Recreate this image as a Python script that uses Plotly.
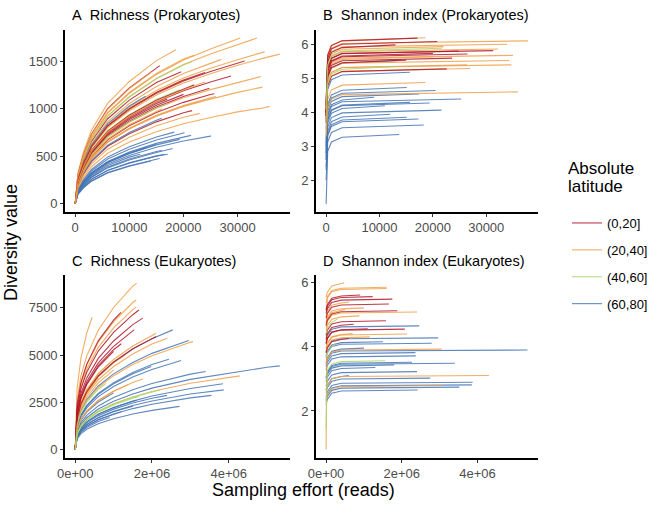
import plotly.graph_objects as go

# ---------------- data ----------------
GROUP_LABELS = ["(0,20]", "(20,40]", "(40,60]", "(60,80]"]
GROUP_COLORS = ["#b2182b", "#f0a048", "#a6d96a", "#4575b4"]

# Panel A: Richness (Prokaryotes); values at grid depths below end depth, then end value
A_GRID = [0, 500, 1500, 3000, 6000, 10000, 15000, 20000, 25000, 30000, 35000]
A_GROUP = [3] * 14 + [1, 1, 0, 1, 1, 1, 0, 0, 0, 0, 0, 2, 2, 1, 1, 1, 0, 1, 1, 3, 3, 0, 1, 1, 0, 2, 1, 1, 1, 0, 0, 1, 1]
A_END = [25100, 21400, 20200, 18300, 19300, 17100, 15600, 14900, 13100, 16000, 12000, 14000, 18000, 16500,
         18600, 30500, 31300, 33600, 35000, 37800, 28800, 25700, 24800, 21600, 19600, 21600, 19300, 27000, 34300,
         34600, 15600, 35900, 26000, 13000, 16000, 22000, 23000, 20000, 17000, 17000, 16000, 14000, 22000, 20000,
         24000, 23000, 24000]
A_VALUES = [
    [0, 127, 213, 305, 417, 508, 594, 660, 711, 712],
    [0, 136, 228, 326, 445, 543, 635, 706, 719],
    [0, 143, 241, 344, 470, 573, 670, 745, 747],
    [0, 150, 252, 360, 492, 600, 702, 753],
    [0, 132, 222, 317, 434, 529, 619, 677],
    [0, 107, 179, 256, 350, 427, 500, 521],
    [0, 100, 168, 240, 328, 400, 468, 476],
    [0, 134, 225, 321, 439, 535, 625],
    [0, 132, 222, 317, 433, 528, 590],
    [0, 118, 197, 282, 385, 470, 550, 560],
    [0, 123, 206, 294, 402, 490, 520],
    [0, 99, 166, 237, 324, 395, 450],
    [0, 115, 193, 276, 377, 460, 538, 580],
    [0, 108, 181, 258, 353, 430, 503, 520],
    [0, 322, 540, 772, 1055, 1286, 1505, 1620],
    [0, 291, 488, 697, 953, 1162, 1360, 1511, 1627, 1731, 1743],
    [0, 248, 417, 596, 814, 993, 1162, 1291, 1390, 1480, 1500],
    [0, 281, 473, 675, 923, 1125, 1316, 1463, 1575, 1676, 1743],
    [0, 254, 427, 610, 834, 1017, 1190, 1322, 1424, 1515, 1597],
    [0, 244, 410, 586, 801, 977, 1143, 1270, 1368, 1456, 1534, 1573],
    [0, 229, 384, 548, 749, 914, 1069, 1188, 1280, 1344],
    [0, 205, 344, 492, 672, 820, 959, 1066, 1148, 1156],
    [0, 217, 365, 521, 712, 868, 1016, 1128, 1215],
    [0, 184, 309, 442, 604, 736, 861, 957, 979],
    [0, 273, 458, 654, 894, 1090, 1275, 1389],
    [0, 281, 471, 673, 920, 1122, 1313, 1459, 1493],
    [0, 234, 393, 562, 768, 936, 1095, 1198],
    [0, 264, 443, 632, 864, 1054, 1233, 1370, 1476, 1518],
    [0, 214, 360, 514, 703, 857, 1003, 1114, 1200, 1277, 1337],
    [0, 197, 330, 472, 645, 786, 920, 1022, 1100, 1171, 1226],
    [0, 305, 512, 731, 1000, 1219, 1426, 1451],
    [0, 162, 272, 389, 531, 648, 758, 842, 907, 966, 1010, 1024],
    [0, 199, 334, 477, 652, 795, 930, 1034, 1113, 1128],
    [0, 257, 431, 616, 842, 1027, 1130],
    [0, 188, 315, 450, 615, 750, 878, 900],
    [0, 233, 391, 558, 763, 930, 1088, 1209, 1250],
    [0, 198, 332, 475, 649, 791, 925, 1028, 1076],
    [0, 250, 420, 600, 820, 1000, 1170, 1300],
    [0, 225, 378, 540, 738, 900, 1053, 1100],
    [0, 215, 361, 516, 705, 860, 1006, 1050],
    [0, 208, 349, 498, 681, 830, 971, 1000],
    [0, 303, 508, 726, 992, 1210, 1380],
    [0, 293, 491, 702, 959, 1170, 1369, 1521, 1560],
    [0, 221, 372, 531, 726, 885, 1035, 1150],
    [0, 250, 420, 600, 820, 1000, 1170, 1300, 1380],
    [0, 175, 294, 420, 574, 700, 819, 910, 950],
    [0, 230, 386, 552, 754, 920, 1076, 1196, 1280],
]

# Panel B: Shannon index (Prokaryotes)
B_GRID = [10, 300, 1000, 3000]
B_GROUP = [3] * 16 + [1] * 13 + [0] * 10 + [2] * 2
B_END = [13700, 18300, 17300, 15100, 21600, 19400, 15700, 25300, 17400, 20500, 15100, 15700, 13300, 11000, 9000, 12000,
         35900, 18600, 37800, 33900, 35000, 34300, 34700, 32200, 26400, 18600, 22000, 27000, 20000,
         31300, 26500, 22600, 17100, 20800, 23600, 24800, 15000, 20000, 13000, 21700, 13300]
B_VALUES = [
    [1.3, 2.85, 3.13, 3.27, 3.35],
    [2.0, 3.13, 3.41, 3.55, 3.63],
    [2.3, 3.31, 3.59, 3.73, 3.81],
    [2.4, 3.36, 3.64, 3.78, 3.86],
    [2.6, 3.57, 3.85, 3.99, 4.07],
    [2.8, 3.78, 4.06, 4.20, 4.28],
    [2.7, 3.80, 4.08, 4.22, 4.30],
    [2.9, 3.90, 4.18, 4.32, 4.40],
    [3.0, 4.05, 4.33, 4.47, 4.55],
    [3.1, 4.15, 4.43, 4.57, 4.65],
    [3.2, 4.24, 4.52, 4.66, 4.74],
    [3.5, 4.69, 4.97, 5.11, 5.19],
    [3.8, 5.04, 5.32, 5.46, 5.54],
    [2.8, 3.70, 3.98, 4.12, 4.20],
    [3.0, 3.95, 4.23, 4.37, 4.45],
    [2.6, 3.45, 3.73, 3.87, 3.95],
    [3.3, 4.11, 4.39, 4.53, 4.61],
    [3.4, 4.39, 4.67, 4.81, 4.89],
    [4.2, 5.62, 5.90, 6.04, 6.12],
    [4.1, 5.52, 5.80, 5.94, 6.02],
    [4.0, 5.19, 5.47, 5.61, 5.69],
    [3.9, 5.04, 5.32, 5.46, 5.54],
    [3.8, 4.91, 5.19, 5.33, 5.41],
    [4.0, 5.38, 5.66, 5.80, 5.88],
    [3.8, 4.91, 5.19, 5.33, 5.41],
    [4.3, 5.71, 5.99, 6.13, 6.21],
    [4.1, 5.45, 5.73, 5.87, 5.95],
    [3.7, 4.80, 5.08, 5.22, 5.30],
    [3.9, 5.15, 5.43, 5.57, 5.65],
    [4.0, 5.33, 5.61, 5.75, 5.83],
    [3.9, 5.23, 5.51, 5.65, 5.73],
    [3.7, 4.79, 5.07, 5.21, 5.29],
    [4.3, 5.70, 5.98, 6.12, 6.20],
    [4.2, 5.60, 5.88, 6.02, 6.10],
    [3.9, 5.11, 5.39, 5.53, 5.61],
    [4.0, 5.32, 5.60, 5.74, 5.82],
    [3.9, 5.05, 5.33, 5.47, 5.55],
    [4.0, 5.25, 5.53, 5.67, 5.75],
    [4.2, 5.50, 5.78, 5.92, 6.00],
    [4.1, 5.40, 5.68, 5.82, 5.90],
    [3.7, 4.86, 5.14, 5.28, 5.36],
]

# Panel C: Richness (Eukaryotes)
C_GRID = [0, 50000, 150000, 300000, 600000, 1000000, 1500000, 2000000, 3000000, 4000000, 5000000]
C_GROUP = [3] * 17 + [1] * 14 + [0] * 7 + [2] * 3
C_END = [5330000, 3400000, 2540000, 2960000, 2760000, 2440000, 3850000, 3870000, 3550000, 2720000, 2390000,
         1500000, 1600000, 1980000, 1200000, 1000000, 900000,
         1600000, 1590000, 440000, 1590000, 2400000, 3070000, 4290000, 1760000, 1370000, 2110000, 1300000, 900000,
         1000000, 600000,
         1660000, 1190000, 1760000, 1540000, 2110000, 1200000, 1000000,
         2200000, 1670000, 800000]
C_VALUES = [
    [0, 896, 1332, 1690, 2151, 2561, 2945, 3252, 3713, 4046, 4354, 4430],
    [0, 964, 1432, 1817, 2313, 2753, 3166, 3496, 3992, 4130],
    [0, 1617, 2402, 3049, 3881, 4620, 5313, 5867, 6330],
    [0, 1402, 2084, 2645, 3366, 4007, 4608, 5089, 5770],
    [0, 1169, 1737, 2204, 2806, 3340, 3841, 4242, 4710],
    [0, 1239, 1841, 2337, 2974, 3541, 4072, 4497, 4780],
    [0, 781, 1160, 1472, 1874, 2231, 2566, 2833, 3235, 3480],
    [0, 709, 1054, 1337, 1702, 2026, 2330, 2573, 2938, 3160],
    [0, 661, 982, 1246, 1586, 1888, 2171, 2398, 2738, 2870],
    [0, 573, 851, 1080, 1374, 1636, 1881, 2078, 2290],
    [0, 750, 1114, 1414, 1799, 2142, 2463, 2720, 2870],
    [0, 700, 1040, 1320, 1680, 2000, 2300],
    [0, 778, 1155, 1467, 1866, 2222, 2555, 2600],
    [0, 1219, 1812, 2299, 2927, 3484, 4007, 4390],
    [0, 660, 981, 1245, 1585, 1887, 2000],
    [0, 1050, 1560, 1980, 2520, 3000],
    [0, 620, 920, 1168, 1487, 1700],
    [0, 2630, 3907, 4959, 6311, 7513, 8640, 8790],
    [0, 2366, 3516, 4462, 5679, 6761, 7775, 7910],
    [0, 3267, 4853, 6160, 7000],
    [0, 2253, 3347, 4248, 5406, 6436, 7401, 7530],
    [0, 1539, 2286, 2901, 3693, 4396, 5055, 5583, 5890],
    [0, 1369, 2034, 2581, 3285, 3911, 4498, 4967, 5671, 5710],
    [0, 848, 1259, 1599, 2034, 2422, 2785, 3076, 3512, 3827, 3900],
    [0, 1082, 1607, 2040, 2596, 3091, 3555, 3740],
    [0, 1082, 1607, 2039, 2596, 3090, 3430],
    [0, 1668, 2479, 3146, 4004, 4767, 5482, 6054, 6150],
    [0, 1605, 2385, 3027, 3853, 4587, 5000],
    [0, 1677, 2492, 3163, 4025, 4600],
    [0, 1470, 2184, 2772, 3528, 4200],
    [0, 1583, 2352, 2986, 3800],
    [0, 2171, 3225, 4093, 5210, 6202, 7132, 7380],
    [0, 2397, 3561, 4520, 5753, 6849, 7260],
    [0, 2010, 2987, 3791, 4825, 5744, 6606, 6950],
    [0, 1910, 2838, 3602, 4584, 5457, 6276, 6330],
    [0, 1623, 2411, 3060, 3894, 4636, 5331, 5888, 5980],
    [0, 1849, 2747, 3487, 4438, 5283, 5600],
    [0, 1820, 2704, 3432, 4368, 5200],
    [0, 844, 1254, 1592, 2026, 2412, 2774, 3063, 3160],
    [0, 826, 1228, 1558, 1983, 2361, 2715, 2810],
    [0, 1331, 1978, 2511, 3195, 3500],
]

# Panel D: Shannon index (Eukaryotes)
D_GRID = [0, 30000, 150000, 400000]
D_GROUP = [3] * 19 + [1] * 14 + [0] * 10 + [2] * 3
D_END = [2460000, 2960000, 2790000, 5320000, 2360000, 2370000, 1800000, 3400000, 2270000, 2400000, 2750000,
         3870000, 3850000, 3520000, 2420000, 1000000, 600000, 1300000, 1500000,
         480000, 1600000, 1600000, 610000, 2400000, 880000, 2140000, 3050000, 4300000, 3090000, 500000, 700000,
         1000000, 1150000,
         1230000, 1750000, 1660000, 1880000, 1580000, 2080000, 730000, 900000, 1100000, 600000,
         1560000, 300000, 250000]
D_VALUES = [
    [4.19, 4.34, 4.54, 4.61, 4.64],
    [3.82, 3.97, 4.17, 4.24, 4.27],
    [3.65, 3.80, 4.00, 4.07, 4.10],
    [3.44, 3.59, 3.79, 3.86, 3.89],
    [3.36, 3.51, 3.71, 3.78, 3.81],
    [3.26, 3.41, 3.61, 3.68, 3.71],
    [2.98, 3.13, 3.33, 3.40, 3.43],
    [3.03, 3.18, 3.38, 3.45, 3.48],
    [3.06, 3.21, 3.41, 3.48, 3.51],
    [2.77, 2.92, 3.12, 3.19, 3.22],
    [2.57, 2.72, 2.92, 2.99, 3.02],
    [2.44, 2.59, 2.79, 2.86, 2.89],
    [2.36, 2.51, 2.71, 2.78, 2.81],
    [2.29, 2.44, 2.64, 2.71, 2.74],
    [2.20, 2.35, 2.55, 2.62, 2.65],
    [3.50, 3.65, 3.85, 3.92, 3.95],
    [2.65, 2.80, 3.00, 3.07, 3.10],
    [2.90, 3.05, 3.25, 3.32, 3.35],
    [3.70, 3.85, 4.05, 4.12, 4.15],
    [5.53, 5.68, 5.88, 5.95, 5.98],
    [0.80, 5.54, 5.74, 5.81, 5.84],
    [5.35, 5.50, 5.70, 5.77, 5.80],
    [4.93, 5.08, 5.28, 5.35, 5.38],
    [4.62, 4.77, 4.97, 5.04, 5.07],
    [4.50, 4.65, 4.85, 4.92, 4.95],
    [3.94, 4.09, 4.29, 4.36, 4.39],
    [3.47, 3.62, 3.82, 3.89, 3.92],
    [2.65, 2.80, 3.00, 3.07, 3.10],
    [2.34, 2.49, 2.69, 2.76, 2.79],
    [4.70, 4.85, 5.05, 5.12, 5.15],
    [3.95, 4.10, 4.30, 4.37, 4.40],
    [4.75, 4.90, 5.10, 5.17, 5.20],
    [3.85, 4.00, 4.20, 4.27, 4.30],
    [5.10, 5.25, 5.45, 5.52, 5.55],
    [5.02, 5.17, 5.37, 5.44, 5.47],
    [4.87, 5.02, 5.22, 5.29, 5.32],
    [4.66, 4.81, 5.01, 5.08, 5.11],
    [4.35, 4.50, 4.70, 4.77, 4.80],
    [4.09, 4.24, 4.44, 4.51, 4.54],
    [4.24, 4.39, 4.59, 4.66, 4.69],
    [5.15, 5.30, 5.50, 5.57, 5.60],
    [4.10, 4.25, 4.45, 4.52, 4.55],
    [3.80, 3.95, 4.15, 4.22, 4.25],
    [1.45, 3.26, 3.46, 3.53, 3.56],
    [4.40, 4.55, 4.75, 4.85],
    [3.65, 3.80, 4.00, 4.10],
]

A_Y_TICKS = [0, 500, 1000, 1500]
B_Y_TICKS = [2, 3, 4, 5, 6]
C_Y_TICKS = [0, 2500, 5000, 7500]
D_Y_TICKS = [2, 4, 6]
P_X_TICKS = [0, 10000, 20000, 30000]
P_X_LABELS = ["0", "10000", "20000", "30000"]
E_X_TICKS = [0, 2000000, 4000000]
E_X_LABELS = ["0e+00", "2e+06", "4e+06"]

# ---------------- figure ----------------
FW, FH = 663, 505


def px(x):
    return x / FW


def py(y):
    return 1 - y / FH


fig = go.Figure()
shown = set()


def add_panel(grid, groups, ends, values, xa, ya, legend=False):
    for i in range(len(ends)):
        xs = [g for g in grid if g < ends[i]] + [ends[i]]
        ys = values[i]
        g = groups[i]
        show = legend and g not in shown
        if show:
            shown.add(g)
        fig.add_trace(go.Scatter(
            x=xs, y=ys, mode="lines", xaxis=xa, yaxis=ya,
            line=dict(color=GROUP_COLORS[g], width=1.1),
            opacity=0.85, name=GROUP_LABELS[g], legendgroup=GROUP_LABELS[g],
            legendrank=g + 1, showlegend=show, hoverinfo="skip"))


add_panel(A_GRID, A_GROUP, A_END, A_VALUES, "x", "y", legend=True)
add_panel(B_GRID, B_GROUP, B_END, B_VALUES, "x2", "y2")
add_panel(C_GRID, C_GROUP, C_END, C_VALUES, "x3", "y3")
add_panel(D_GRID, D_GROUP, D_END, D_VALUES, "x4", "y4")

FAM = "Liberation Sans, Arial, sans-serif"
TICKFONT = dict(family=FAM, size=13, color="#4d4d4d")
common = dict(showline=True, linecolor="black", linewidth=1.6, ticks="outside", ticklen=3,
              tickcolor="#333333", tickwidth=1, showgrid=False, zeroline=False, tickfont=TICKFONT,
              automargin=False)

xl = [px(65), px(290)]
xr = [px(316), px(538)]
yt = [py(212), py(30)]
yb = [py(458), py(275)]

fig.update_layout(
    width=FW, height=FH, margin=dict(l=0, r=0, t=0, b=0, autoexpand=False),
    plot_bgcolor="white", paper_bgcolor="white",
    font=dict(family=FAM, color="black"),
    xaxis=dict(domain=xl, anchor="y", range=[-1890, 39690], tickvals=P_X_TICKS, ticktext=P_X_LABELS, **common),
    yaxis=dict(domain=yt, anchor="x", range=[-87, 1827], tickvals=A_Y_TICKS, **common),
    xaxis2=dict(domain=xr, anchor="y2", range=[-1890, 39690], tickvals=P_X_TICKS, ticktext=P_X_LABELS, **common),
    yaxis2=dict(domain=yt, anchor="x2", range=[1.06, 6.44], tickvals=B_Y_TICKS, **common),
    xaxis3=dict(domain=xl, anchor="y3", range=[-266500, 5596500], tickvals=E_X_TICKS, ticktext=E_X_LABELS, **common),
    yaxis3=dict(domain=yb, anchor="x3", range=[-440, 9230], tickvals=C_Y_TICKS, **common),
    xaxis4=dict(domain=xr, anchor="y4", range=[-266500, 5596500], tickvals=E_X_TICKS, ticktext=E_X_LABELS, **common),
    yaxis4=dict(domain=yb, anchor="x4", range=[0.54, 6.22], tickvals=D_Y_TICKS, **common),
    legend=dict(x=px(567), y=py(208), xanchor="left", yanchor="top",
                font=dict(family=FAM, size=13, color="black"), traceorder="grouped", tracegroupgap=7,
                itemwidth=30, bgcolor="rgba(0,0,0,0)"),
    showlegend=True,
)

TITLE_FONT = dict(family=FAM, size=14.5, color="black")
nb = "\u00a0"
for txt, tx, ty in [("A" + nb + nb + "Richness (Prokaryotes)", 70, 15),
                    ("B" + nb + nb + "Shannon index (Prokaryotes)", 321, 15),
                    ("C" + nb + nb + "Richness (Eukaryotes)", 70, 261),
                    ("D" + nb + nb + "Shannon index (Eukaryotes)", 321, 261)]:
    fig.add_annotation(text=txt, x=px(tx), y=py(ty), xref="paper", yref="paper",
                       xanchor="left", yanchor="middle", showarrow=False, font=TITLE_FONT)

LEG_TITLE_FONT = dict(family=FAM, size=17, color="black")
fig.add_annotation(text="Absolute", x=px(566), y=py(168), xref="paper", yref="paper",
                   xanchor="left", yanchor="middle", showarrow=False, font=LEG_TITLE_FONT)
fig.add_annotation(text="latitude", x=px(566), y=py(186), xref="paper", yref="paper",
                   xanchor="left", yanchor="middle", showarrow=False, font=LEG_TITLE_FONT)
fig.add_annotation(text="Diversity value", x=px(11), y=py(243), xref="paper", yref="paper",
                   textangle=-90, showarrow=False, xanchor="center", yanchor="middle",
                   font=dict(family=FAM, size=18, color="black"))
fig.add_annotation(text="Sampling effort (reads)", x=px(303), y=py(490), xref="paper", yref="paper",
                   showarrow=False, xanchor="center", yanchor="middle",
                   font=dict(family=FAM, size=18, color="black"))

# remove the default page margin so the figure sits at the window's top-left corner
fig.write_html("out.html", config={"displayModeBar": False},
               post_script="document.body.style.margin='0px';")
